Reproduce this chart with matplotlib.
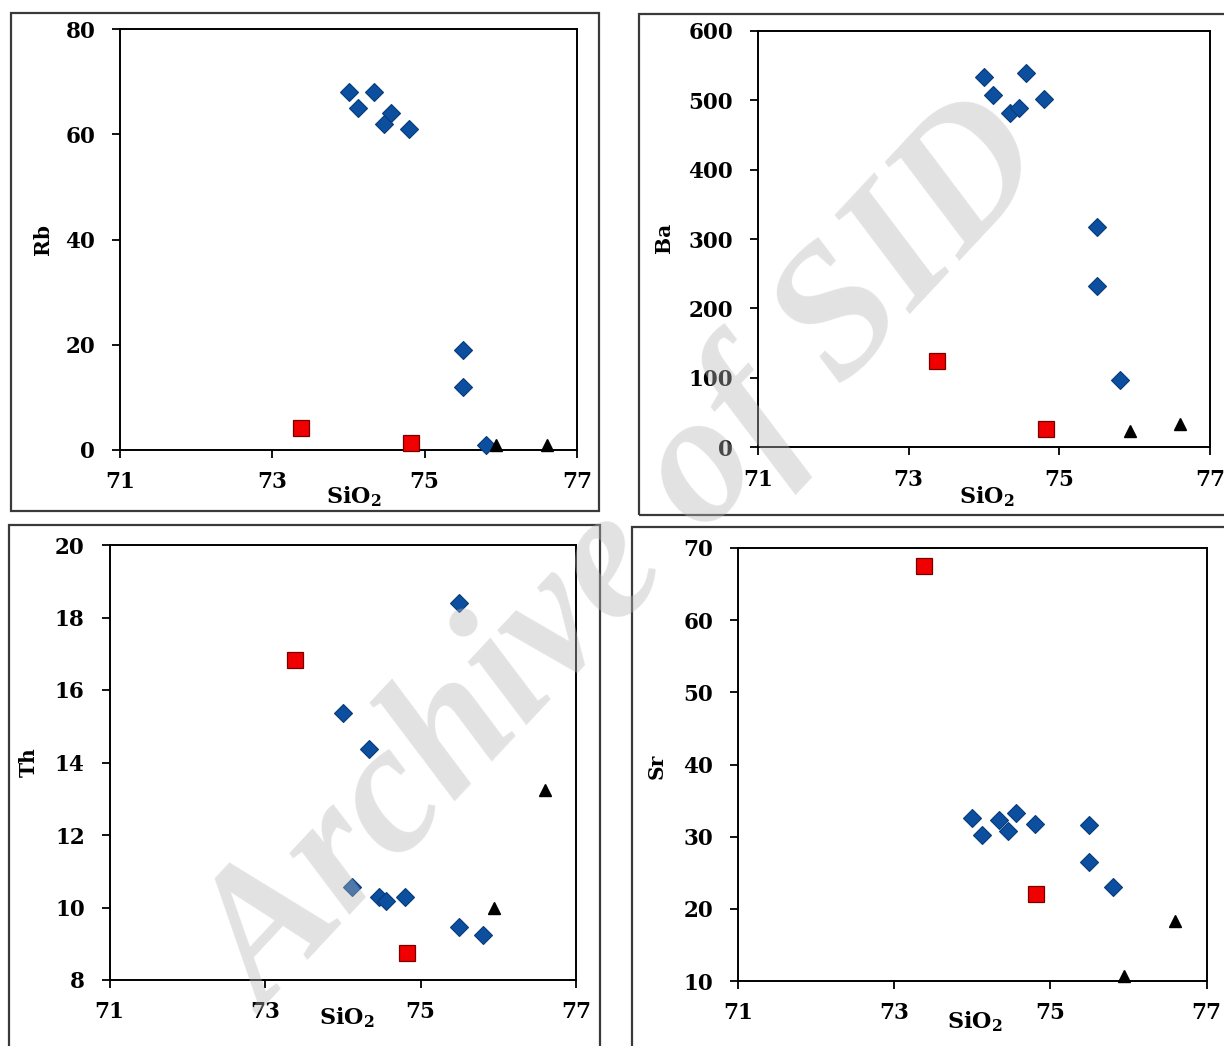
import matplotlib
matplotlib.use('Agg')
import matplotlib.pyplot as plt
from matplotlib.patches import Rectangle

# ---------------- data ----------------
sio2_blue = [74.0, 74.12, 74.34, 74.46, 74.56, 74.8, 75.5, 75.5, 75.8]
sio2_red = [73.38, 74.82]
sio2_black = [75.94, 76.6]

rb_blue = [68, 65, 68, 62, 64, 61, 19, 12, 1]
rb_red = [4.2, 1.3]
rb_black = [1.0, 1.0]

ba_blue = [533, 508, 481, 488, 539, 501, 317, 233, 97]
ba_red = [125, 26]
ba_black = [23, 33]

th_blue = [15.37, 10.57, 14.36, 10.3, 10.19, 10.3, 18.39, 9.46, 9.25]
th_red = [16.82, 8.74]
th_black = [10.0, 13.25]

sr_blue = [32.6, 30.3, 32.3, 30.8, 33.3, 31.8, 31.6, 26.5, 23.0]
sr_red = [67.5, 22.0]
sr_black = [10.7, 18.3]

x_ticks = [71, 73, 75, 77]
rb_ticks = [0, 20, 40, 60, 80]
ba_ticks = [0, 100, 200, 300, 400, 500, 600]
th_ticks = [8, 10, 12, 14, 16, 18, 20]
sr_ticks = [10, 20, 30, 40, 50, 60, 70]

# ---------------- style ----------------
plt.rcParams['font.family'] = ['DejaVu Serif']
plt.rcParams['font.weight'] = 'bold'
plt.rcParams['mathtext.fontset'] = 'custom'
plt.rcParams['mathtext.rm'] = 'DejaVu Serif:bold'
plt.rcParams['mathtext.it'] = 'DejaVu Serif:bold'
plt.rcParams['mathtext.bf'] = 'DejaVu Serif:bold'

W, H = 1224, 1046
fig = plt.figure(figsize=(W / 100, H / 100), dpi=100)
fig.patch.set_facecolor('white')


def fx(px):
    return px / W


def fy(py):
    return 1 - py / H


# outer frames (pixel boxes: left, top, right, bottom)
frames = [(11, 12.5, 599, 511), (638.5, 14, 1240, 515),
          (8.5, 525, 600, 1060), (631.5, 527, 1240, 1060)]
for (l, t, r, b) in frames:
    fig.patches.append(Rectangle((fx(l), fy(b)), fx(r) - fx(l), fy(t) - fy(b),
                                 transform=fig.transFigure, fill=False,
                                 edgecolor='#3a3a3a', linewidth=1.6, zorder=0))

panels = [
    dict(box=(120, 29, 577, 450), ylim=(0, 80), yt=rb_ticks, lab='Rb',
         blue=rb_blue, red=rb_red, black=rb_black,
         ylab=(42.5, 239.5), xlab=(354, 497)),
    dict(box=(758, 30.7, 1210, 447.3), ylim=(0, 600), yt=ba_ticks, lab='Ba',
         blue=ba_blue, red=ba_red, black=ba_black,
         ylab=(664, 238), xlab=(987, 497)),
    dict(box=(109.5, 545, 576, 980), ylim=(8, 20), yt=th_ticks, lab='Th',
         blue=th_blue, red=th_red, black=th_black,
         ylab=(29, 762), xlab=(347, 1018)),
    dict(box=(738, 548, 1206.5, 981), ylim=(10, 70), yt=sr_ticks, lab='Sr',
         blue=sr_blue, red=sr_red, black=sr_black,
         ylab=(657, 766), xlab=(975, 1022)),
]

for p in panels:
    l, t, r, b = p['box']
    ax = fig.add_axes([fx(l), fy(b), fx(r) - fx(l), fy(t) - fy(b)])
    ax.set_xlim(71, 77)
    ax.set_ylim(*p['ylim'])
    ax.set_xticks(x_ticks)
    ax.set_yticks(p['yt'])
    for s in ax.spines.values():
        s.set_linewidth(1.4)
        s.set_color('black')
    ax.tick_params(axis='both', direction='out', length=5.8, width=1.3,
                   labelsize=15.5, colors='black')
    ax.tick_params(axis='y', pad=12)
    ax.tick_params(axis='x', pad=9.5)
    for lbl in ax.get_xticklabels() + ax.get_yticklabels():
        lbl.set_fontweight('bold')
    ax.plot(sio2_blue, p['blue'], linestyle='none', marker='D', markersize=9,
            markerfacecolor='#0c4f9f', markeredgecolor='#083a7a',
            markeredgewidth=0.8, clip_on=False, zorder=3)
    ax.plot(sio2_red, p['red'], linestyle='none', marker='s', markersize=12,
            markerfacecolor='#f00000', markeredgecolor='#7a0000',
            markeredgewidth=0.9, clip_on=False, zorder=4)
    ax.plot(sio2_black, p['black'], linestyle='none', marker='^', markersize=8.6,
            markerfacecolor='black', markeredgecolor='black',
            clip_on=False, zorder=5)
    fig.text(fx(p['ylab'][0]), fy(p['ylab'][1]), p['lab'], rotation=90,
             ha='center', va='center', fontsize=14.5, fontweight='bold')
    fig.text(fx(p['xlab'][0]), fy(p['xlab'][1]), r'$\mathrm{SiO_2}$',
             ha='center', va='center', fontsize=16)

# watermark
fig.text(fx(628), fy(560), 'Archive of SID', rotation=47, rotation_mode='anchor',
         ha='center', va='center', fontsize=134, fontweight='bold',
         fontstyle='italic', family=['Liberation Serif'],
         color=(0.72, 0.72, 0.72), alpha=0.4, zorder=10)

fig.savefig('out.png', dpi=100)
